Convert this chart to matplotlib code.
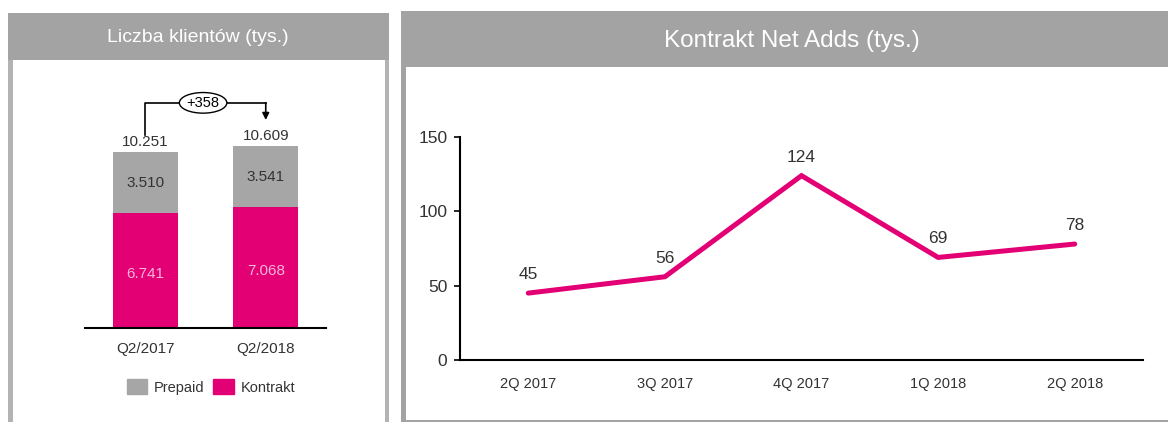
import matplotlib.pyplot as plt
from matplotlib.patches import Rectangle, Patch

# data - left panel (customers, thousands)
quarters = ["Q2/2017", "Q2/2018"]
prepaid = [3510, 3541]
kontrakt = [6741, 7068]

# data - right panel (contract net adds, thousands)
periods = ["2Q 2017", "3Q 2017", "4Q 2017", "1Q 2018", "2Q 2018"]
net_adds = [45, 56, 124, 69, 78]

MAGENTA = "#E20074"
GRAY = "#A6A6A6"
HEADER = "#A3A3A3"
BORDER = "#B3B3B3"
TXT = "#333333"

W, H = 1168, 422
plt.rcParams['font.family'] = ['Liberation Sans', 'DejaVu Sans']

fig = plt.figure(figsize=(W / 100, H / 100), dpi=100)


def rect(x0, y0, x1, y1):
    # pixel box (from top-left) -> figure fraction
    return [x0 / W, 1 - y1 / H, (x1 - x0) / W, (y1 - y0) / H]


def box(x0, y0, x1, y1, color):
    l, b, w, h = rect(x0, y0, x1, y1)
    fig.add_artist(Rectangle((l, b), w, h, transform=fig.transFigure,
                             facecolor=color, edgecolor="none", zorder=0))


def fmt(v):
    return f"{v:,}".replace(",", ".")


# panel frames
box(8, 13, 389, 422, BORDER)
box(8, 13, 389, 60, HEADER)
box(13, 60, 385, 422, "white")
box(401, 11, 1168, 422, HEADER)
box(406, 67, 1168, 420, "white")

fig.text(198 / W, 1 - 38 / H, "Liczba klientów (tys.)", color="white",
         fontsize=14, ha="center", va="center")
fig.text(792 / W, 1 - 41 / H, "Kontrakt Net Adds (tys.)", color="white",
         fontsize=17.5, ha="center", va="center")

# ---- left: stacked bars
ax1 = fig.add_axes(rect(85, 90, 326, 328))
ax1.set_facecolor("none")
x = list(range(len(quarters)))
totals = [k + p for k, p in zip(kontrakt, prepaid)]
ax1.bar(x, kontrakt, width=0.54, color=MAGENTA)
ax1.bar(x, prepaid, width=0.54, bottom=kontrakt, color=GRAY)
ax1.set_xlim(-0.5, 1.5)
ax1.set_ylim(0, 13900)
for i in x:
    ax1.text(i, kontrakt[i] * 0.47, fmt(kontrakt[i]), ha="center", va="center",
             color="#F7B5DA", fontsize=11)
    ax1.text(i, kontrakt[i] + prepaid[i] / 2, fmt(prepaid[i]), ha="center",
             va="center", color=TXT, fontsize=11)
    ax1.text(i, totals[i] + 200, fmt(totals[i]), ha="center", va="bottom",
             color=TXT, fontsize=11)

# growth arrow
top = 13150
ax1.plot([0, 0, 1, 1], [totals[0] + 1000, top, top, top], color="black",
         lw=1.2, clip_on=False)
ax1.annotate("", xy=(1, 12150), xytext=(1, top),
             arrowprops=dict(arrowstyle="-|>", color="black", lw=1.2,
                             shrinkA=0, shrinkB=0, mutation_scale=10),
             annotation_clip=False)
ax1.text(0.48, top, f"+{totals[1] - totals[0]}", ha="center", va="center",
         fontsize=10.5, color="black",
         bbox=dict(boxstyle="ellipse,pad=0.02", fc="white", ec="black", lw=1))

for s in ["top", "left", "right"]:
    ax1.spines[s].set_visible(False)
ax1.spines["bottom"].set_linewidth(1.5)
ax1.set_yticks([])
ax1.set_xticks(x)
ax1.set_xticklabels(quarters, fontsize=11, color=TXT)
ax1.tick_params(axis="x", length=0, pad=10)

handles = [Patch(color=GRAY, label="Prepaid"), Patch(color=MAGENTA, label="Kontrakt")]
fig.legend(handles=handles, loc="center", bbox_to_anchor=(211 / W, 1 - 387 / H),
           ncol=2, frameon=False, fontsize=10.5, handlelength=1.4,
           handleheight=1.2, columnspacing=0.6, handletextpad=0.45,
           labelcolor=TXT)

# ---- right: line
ax2 = fig.add_axes(rect(460, 137, 1143, 360))
ax2.set_facecolor("none")
xs = list(range(len(periods)))
ax2.plot(xs, net_adds, color=MAGENTA, lw=3.6, solid_capstyle="round",
         solid_joinstyle="miter")
for i, v in zip(xs, net_adds):
    ax2.annotate(str(v), (i, v), xytext=(0, 8), textcoords="offset points",
                 ha="center", va="bottom", fontsize=12.5, color=TXT)
ax2.set_xlim(-0.5, 4.5)
ax2.set_ylim(0, 150)
ax2.set_yticks([0, 50, 100, 150])
ax2.set_xticks(xs)
ax2.set_xticklabels(periods, fontsize=10.5, color=TXT)
ax2.tick_params(axis="x", length=0, pad=12)
ax2.tick_params(axis="y", length=4, width=1.2, pad=5, labelsize=12.5,
                labelcolor=TXT)
for s in ["top", "right"]:
    ax2.spines[s].set_visible(False)
ax2.spines["left"].set_linewidth(1.5)
ax2.spines["bottom"].set_linewidth(1.5)

fig.savefig("out.png", dpi=100)
